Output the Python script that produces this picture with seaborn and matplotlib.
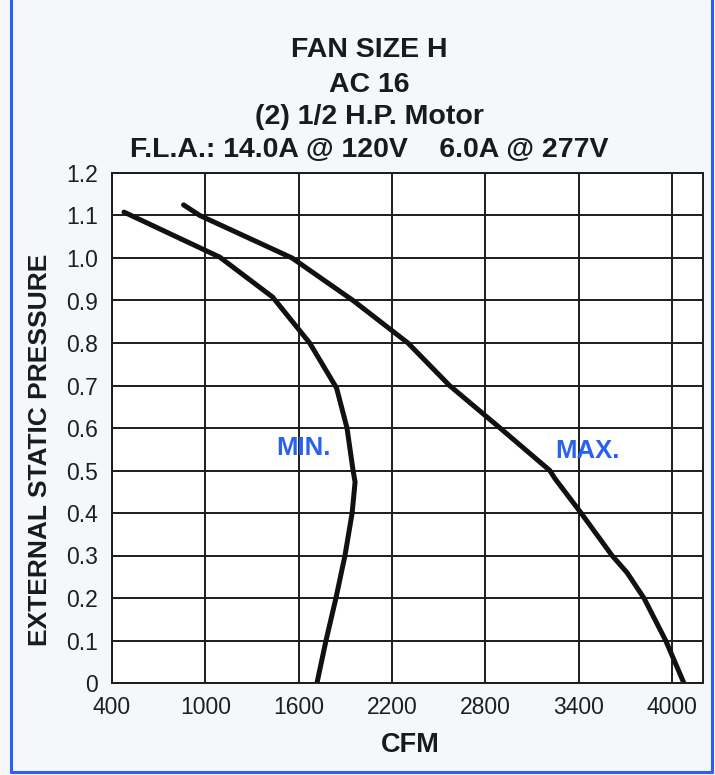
import matplotlib
matplotlib.use("Agg")
import matplotlib.pyplot as plt
from matplotlib.lines import Line2D
import seaborn as sns

# Fan curve readings (CFM vs external static pressure, in. w.c.)
max_cfm = [860, 965, 1558, 1950, 2303, 2570, 2895, 3215, 3250, 3416, 3615, 3711, 3820, 3960, 4077]
max_esp = [1.125, 1.10, 1.00, 0.90, 0.80, 0.70, 0.60, 0.50, 0.48, 0.40, 0.30, 0.26, 0.20, 0.10, 0.0]

min_cfm = [477, 1093, 1433, 1671, 1844, 1911, 1950, 1963, 1944, 1898, 1840, 1776, 1718]
min_esp = [1.108, 1.002, 0.908, 0.80, 0.694, 0.60, 0.50, 0.473, 0.40, 0.30, 0.20, 0.10, 0.0]

x_ticks = [400, 1000, 1600, 2200, 2800, 3400, 4000]
y_ticks = [0, 0.1, 0.2, 0.3, 0.4, 0.5, 0.6, 0.7, 0.8, 0.9, 1.0, 1.1, 1.2]
y_tick_labels = ["0", "0.1", "0.2", "0.3", "0.4", "0.5", "0.6", "0.7", "0.8", "0.9", "1.0", "1.1", "1.2"]

title_lines = [
    "FAN SIZE H",
    "AC 16",
    "(2) 1/2 H.P. Motor",
    "F.L.A.: 14.0A @ 120V    6.0A @ 277V",
]

W, H = 715, 775
GRID = "#1c1c1c"
BLUE = "#2a62f0"

sns.set_theme(style="white")
plt.rcParams["font.family"] = ["Liberation Sans", "DejaVu Sans"]

fig = plt.figure(figsize=(W / 100, H / 100), dpi=100)
fig.patch.set_facecolor("#f5f8fb")

# axes placed in pixel terms
ax = fig.add_axes([112 / W, 1 - 683 / H, (703 - 112) / W, (683 - 173) / H])
ax.set_facecolor("white")

sns.lineplot(x=max_cfm, y=max_esp, sort=False, estimator=None, color="#111111",
             linewidth=3.6, ax=ax)
sns.lineplot(x=min_cfm, y=min_esp, sort=False, estimator=None, color="#111111",
             linewidth=3.6, ax=ax)

ax.set_xlim(400, 4200)
ax.set_ylim(0, 1.2)
ax.set_xticks(x_ticks)
ax.set_xticklabels([str(t) for t in x_ticks])
ax.set_yticks(y_ticks)
ax.set_yticklabels(y_tick_labels)
ax.tick_params(axis="both", length=0, labelsize=16.5, colors="#1e1e1e")
ax.tick_params(axis="x", pad=9)
ax.tick_params(axis="y", pad=10)

ax.grid(True, color=GRID, linewidth=1.4)
ax.set_axisbelow(True)
for sp in ax.spines.values():
    sp.set_visible(True)
    sp.set_color(GRID)
    sp.set_linewidth(1.4)

ax.text(1632, 0.553, "MIN.", color=BLUE, fontsize=18.5, fontweight="bold",
        ha="center", va="center")
ax.text(3455, 0.546, "MAX.", color=BLUE, fontsize=18.5, fontweight="bold",
        ha="center", va="center")

# title block
baselines = [57, 92, 124, 157]
for txt, yb in zip(title_lines, baselines):
    fig.text(369 / W, 1 - yb / H, txt, ha="center", va="baseline",
             fontsize=20.5, fontweight="bold", color="#1a1a1a")

fig.text(410 / W, 1 - 752 / H, "CFM", ha="center", va="baseline",
         fontsize=19.5, fontweight="bold", color="#1a1a1a")
fig.text(40 / W, 1 - 450 / H, "EXTERNAL STATIC PRESSURE", ha="center", va="center",
         rotation=90, fontsize=19, fontweight="bold", color="#1a1a1a")

# blue page border
for xs, ys in [([11, 11], [0, 772]), ([712, 712], [0, 772]), ([11, 712], [772, 772])]:
    fig.add_artist(Line2D([x / W for x in xs], [1 - y / H for y in ys],
                          color="#2d5ff5", linewidth=2.2, transform=fig.transFigure))

fig.savefig("out.png", dpi=100, facecolor=fig.get_facecolor())
